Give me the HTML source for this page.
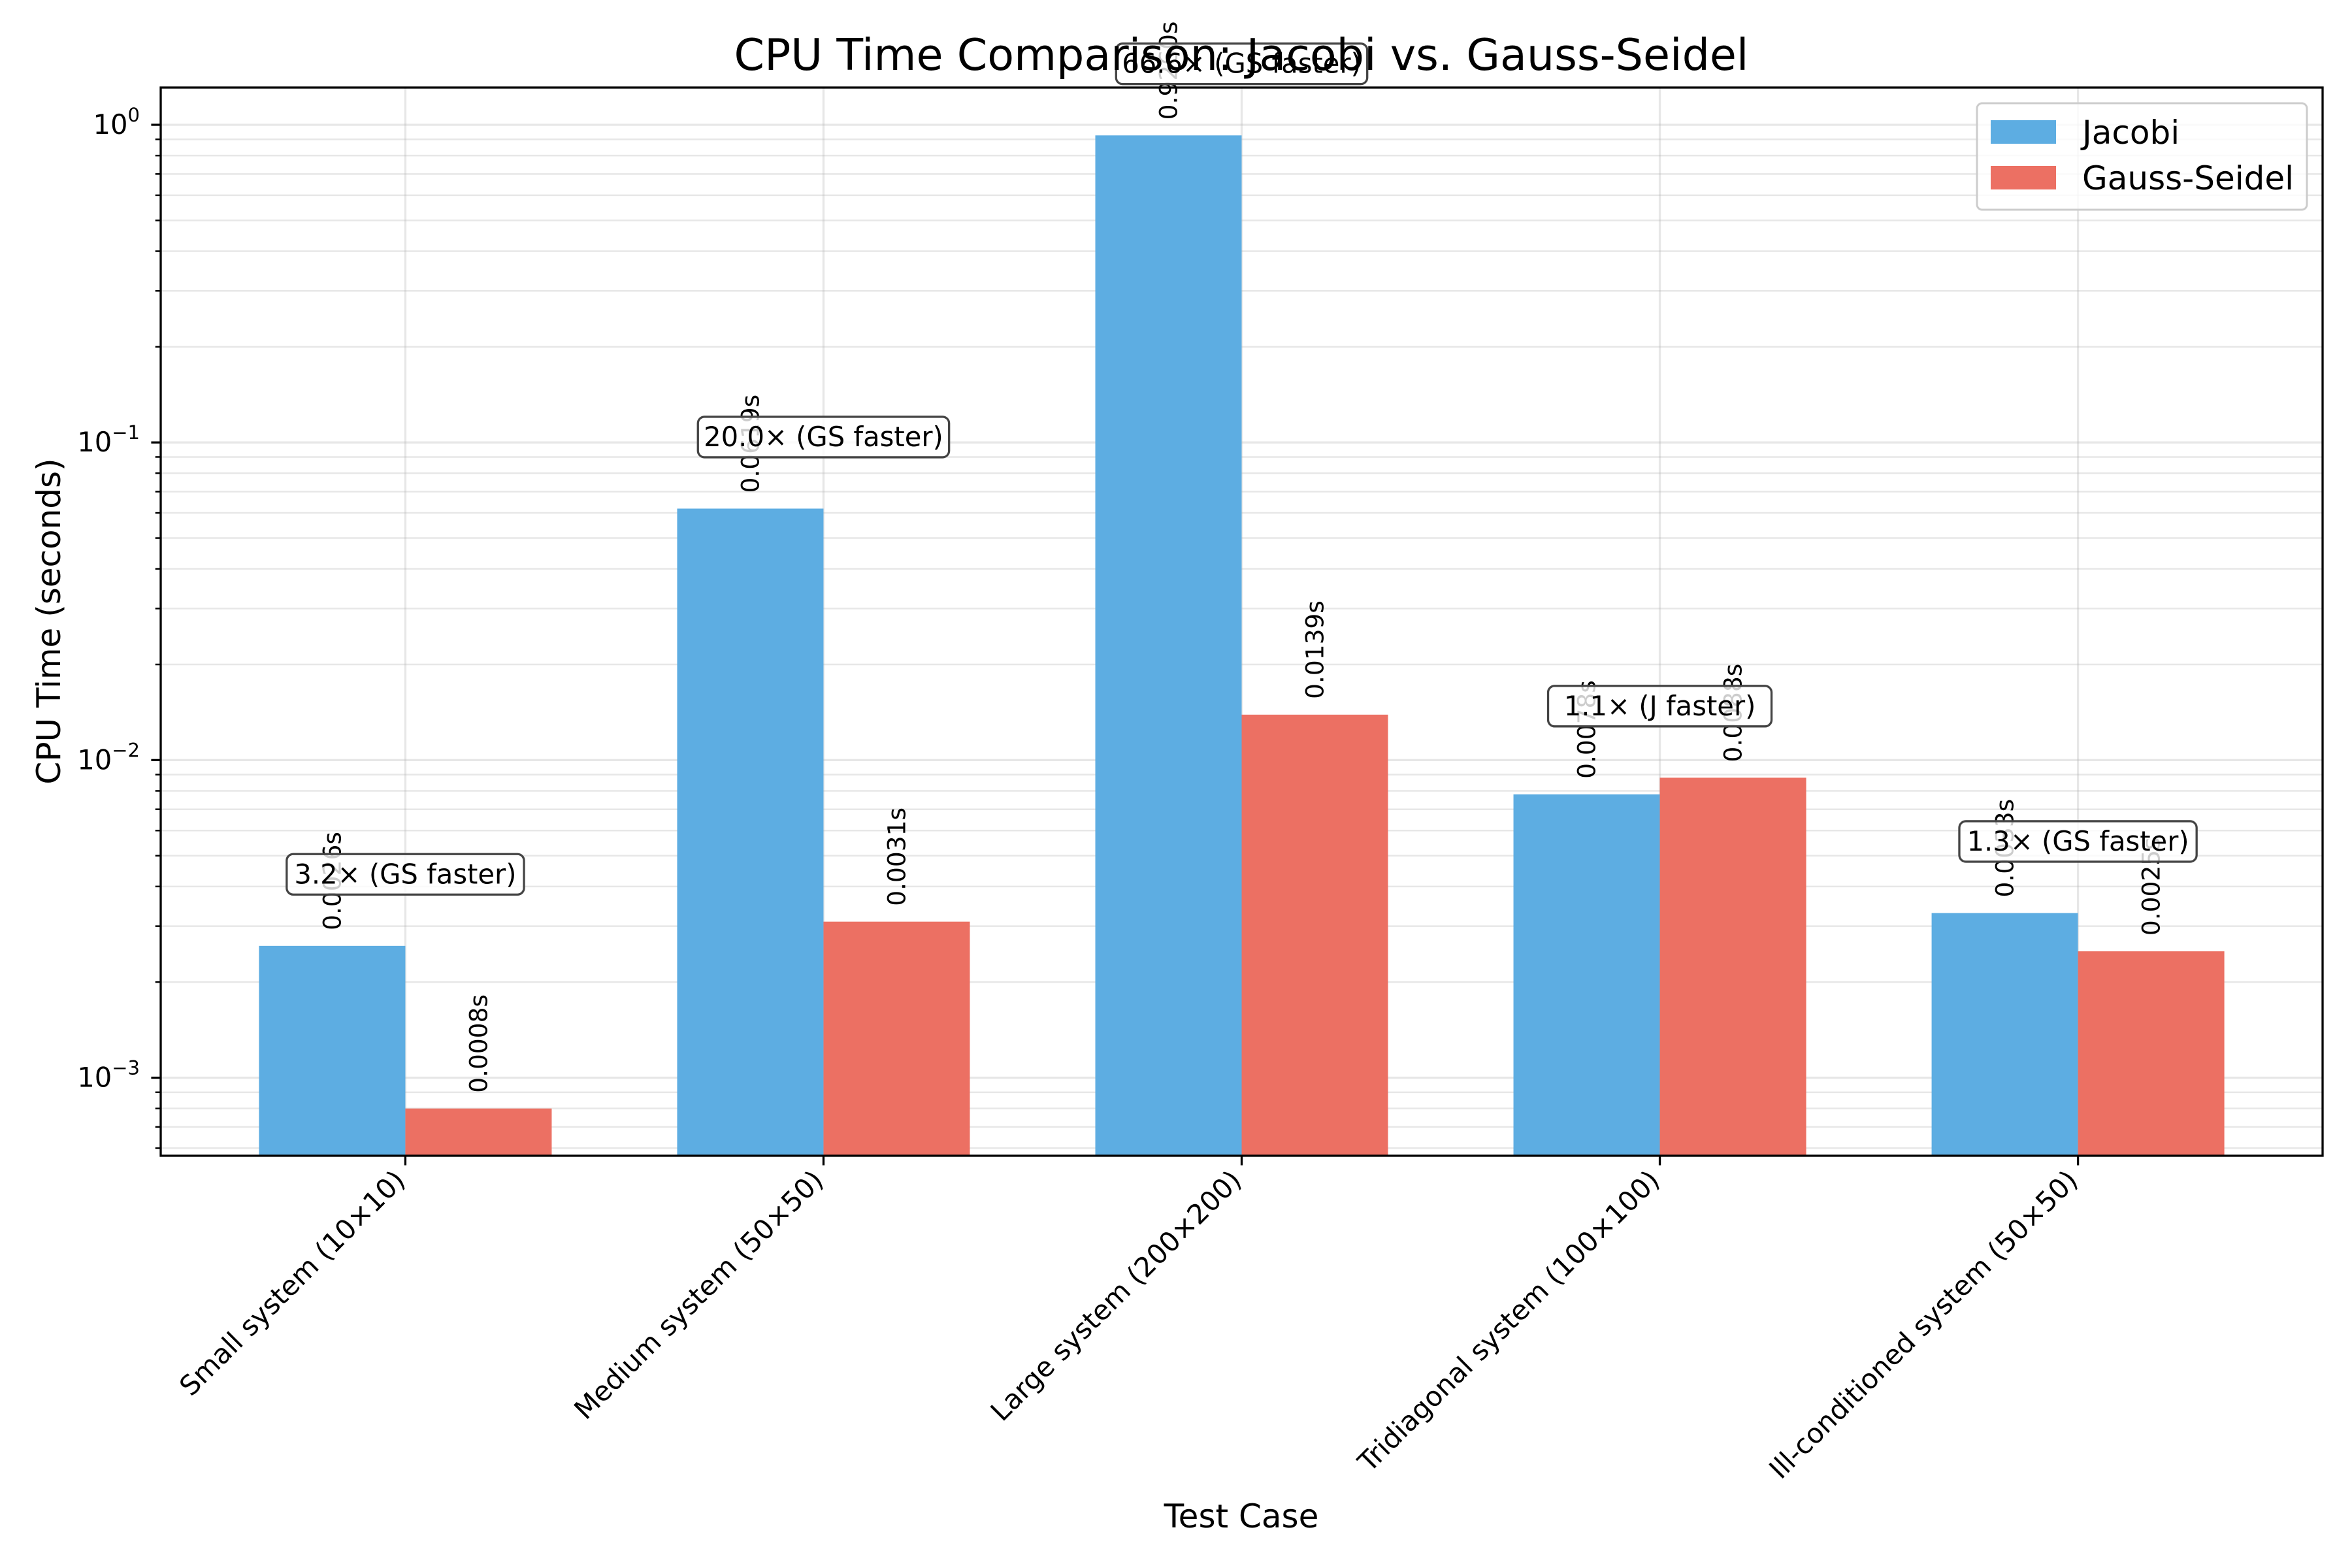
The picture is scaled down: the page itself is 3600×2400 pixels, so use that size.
<!DOCTYPE html>
<html><head><meta charset="utf-8"><style>
html,body{margin:0;padding:0;background:#fff;}
svg{display:block;font-family:"DejaVu Sans","Liberation Sans",sans-serif;}
</style></head><body>
<svg id="chart" width="3600" height="2400" viewBox="0 0 3600 2400" xmlns="http://www.w3.org/2000/svg">
<rect width="3600" height="2400" fill="#fff"/>
<g id="grid"></g>
<g id="bars"></g>
<g id="vlabels"></g>
<g id="ann"></g>
<g id="axes"></g>
<text x="1900" y="107" font-size="66.7" text-anchor="middle">CPU Time Comparison: Jacobi vs. Gauss-Seidel</text>
<text x="1900" y="2338" font-size="50" text-anchor="middle">Test Case</text>
<text x="0" y="0" font-size="50" text-anchor="middle" transform="translate(92,951) rotate(-90)">CPU Time (seconds)</text>
<g>
<rect x="3026" y="158" width="505" height="163" rx="8" fill="#fff" fill-opacity="0.8" stroke="#ccc" stroke-width="3"/>
<rect x="3047" y="184" width="100" height="36" fill="#5dade2"/>
<text x="3187" y="220" font-size="50">Jacobi</text>
<rect x="3047" y="254" width="100" height="36" fill="#ec7063"/>
<text x="3187" y="290" font-size="50">Gauss-Seidel</text>
</g>
</svg>
<script>
const categories = ["Small system (10×10)","Medium system (50×50)","Large system (200×200)","Tridiagonal system (100×100)","Ill-conditioned system (50×50)"];
const jacobiTimes = [0.0026, 0.0619, 0.9260, 0.0078, 0.0033];
const gaussSeidelTimes = [0.0008, 0.0031, 0.0139, 0.0088, 0.0025];
const jacobiLabels = ["0.0026s","0.0619s","0.9260s","0.0078s","0.0033s"];
const gaussSeidelLabels = ["0.0008s","0.0031s","0.0139s","0.0088s","0.0025s"];
const speedupLabels = ["3.2× (GS faster)","20.0× (GS faster)","66.6× (GS faster)","1.1× (J faster)","1.3× (GS faster)"];
const yTickExps = [-3,-2,-1,0];

const NS="http://www.w3.org/2000/svg";
const L=246,R=3555,T=134,B=1769;
const xmin=-0.585,xmax=4.585;
const ymin=Math.log10(5.68e-4),ymax=Math.log10(1.31);
const X=v=>L+(v-xmin)/(xmax-xmin)*(R-L);
const Y=v=>B-(Math.log10(v)-ymin)/(ymax-ymin)*(B-T);
const W=0.35;
function mk(tag,attrs,parent){const e=document.createElementNS(NS,tag);for(const k in attrs)e.setAttribute(k,attrs[k]);parent.appendChild(e);return e;}
const grid=document.getElementById('grid'),bars=document.getElementById('bars'),vl=document.getElementById('vlabels'),ann=document.getElementById('ann'),axes=document.getElementById('axes');

for(let e=-4;e<=0;e++){for(let m=1;m<=9;m++){const v=m*Math.pow(10,e);const y=Y(v);if(y<T||y>B)continue;
 const g=mk('line',{x1:L,x2:R,y1:y,y2:y,stroke:'#b0b0b0','stroke-opacity':0.3,'stroke-width':m===1?3.3:2.5},grid);
 
 
 const tk=mk('line',{x1:L,x2:L-(m===1?14.6:8.3),y1:y,y2:y,stroke:'#000','stroke-width':m===1?3.3:2.5},axes);
 
 
}}
categories.forEach((c,i)=>{const x=X(i);
 const g=mk('line',{x1:x,x2:x,y1:T,y2:B,stroke:'#b0b0b0','stroke-opacity':0.3,'stroke-width':3.3},grid);
 
 
});
categories.forEach((c,i)=>{
 const xj=X(i-W),xc=X(i),xg=X(i+W);
 const bj=mk('rect',{x:xj,y:Y(jacobiTimes[i]),width:xc-xj,height:B-Y(jacobiTimes[i]),fill:'#5dade2'},bars);
 
 
 const bg=mk('rect',{x:xc,y:Y(gaussSeidelTimes[i]),width:xg-xc,height:B-Y(gaussSeidelTimes[i]),fill:'#ec7063'},bars);
 
 
 [[jacobiTimes[i],jacobiLabels[i],(xj+xc)/2,'jacobi'],[gaussSeidelTimes[i],gaussSeidelLabels[i],(xc+xg)/2,'gauss-seidel']].forEach(([v,lab,cx,nm])=>{
  const y=Y(v*1.12);
  const t=mk('text',{x:0,y:0,'font-size':37.5,transform:`translate(${cx+13},${y}) rotate(-90)`},vl);
  t.textContent=lab;
  
  
 });
 const mx=Math.max(jacobiTimes[i],gaussSeidelTimes[i]);
 const ay=Y(mx*1.68);
 const tw=speedupLabels[i].length*21.2;
 const br=mk('rect',{x:xc-tw/2-12,y:ay-31,width:tw+24,height:62,rx:10,fill:'#fff','fill-opacity':0.8,stroke:'#444','stroke-width':3.3},ann);
 
 
 const at=mk('text',{x:xc,y:ay+14,'font-size':41.7,'text-anchor':'middle'},ann);
 at.textContent=speedupLabels[i];
 
 
 const tk=mk('line',{x1:xc,x2:xc,y1:B,y2:B+14.6,stroke:'#000','stroke-width':3.3},axes);
 
 
 const xt=mk('text',{x:0,y:0,'font-size':41.7,'text-anchor':'end',transform:`translate(${xc+2},${B+40}) rotate(-45)`},axes);
 xt.textContent=c;
 
 
});
yTickExps.forEach(e=>{const y=Y(Math.pow(10,e));
 const t=mk('text',{x:214,y:y+14,'font-size':41.7,'text-anchor':'end'},axes);
 const a=document.createElementNS(NS,'tspan');a.textContent='10';t.appendChild(a);
 const s=document.createElementNS(NS,'tspan');s.setAttribute('dy','-19');s.setAttribute('font-size','29');s.textContent=e===0?'0':'−'+(-e);t.appendChild(s);
 
 
});
const fr=mk('rect',{x:L,y:T,width:R-L,height:B-T,fill:'none',stroke:'#000','stroke-width':3.3},axes);


</script>
</body></html>
